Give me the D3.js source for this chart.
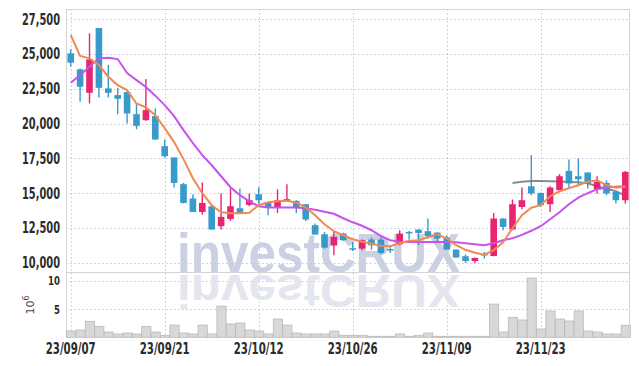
<!DOCTYPE html>
<html><head><meta charset="utf-8">
<script src="https://cdn.jsdelivr.net/npm/d3@7/dist/d3.min.js"></script>
<style>body{margin:0;background:#fff;}svg{display:block;}</style>
</head><body>
<svg id="chart" width="639" height="366"></svg>
<script>
const dates = ["2023-09-07","2023-09-08","2023-09-11","2023-09-12","2023-09-13","2023-09-14","2023-09-15","2023-09-18","2023-09-19","2023-09-20",
"2023-09-21","2023-09-22","2023-09-25","2023-09-26","2023-09-27","2023-10-04","2023-10-05","2023-10-06","2023-10-10","2023-10-11",
"2023-10-12","2023-10-13","2023-10-16","2023-10-17","2023-10-18","2023-10-19","2023-10-20","2023-10-23","2023-10-24","2023-10-25",
"2023-10-26","2023-10-27","2023-10-30","2023-10-31","2023-11-01","2023-11-02","2023-11-03","2023-11-06","2023-11-07","2023-11-08",
"2023-11-09","2023-11-10","2023-11-13","2023-11-14","2023-11-15","2023-11-16","2023-11-17","2023-11-20","2023-11-21","2023-11-22",
"2023-11-23","2023-11-24","2023-11-27","2023-11-28","2023-11-29","2023-11-30","2023-12-01","2023-12-04","2023-12-05","2023-12-06"];
const open = [25050,23900,22215,26870,22530,22050,22270,20680,20250,20540,18380,17570,15650,14620,13655,14065,12630,13150,13920,14160,
14930,14350,13970,14450,14450,14210,12700,12050,11240,12100,11050,11020,11670,11670,10990,11330,12220,12390,12270,12170,
11810,10950,10470,10130,10630,10490,13180,12390,14010,15500,15020,14210,15220,16600,16220,16490,15270,15740,15090,14500];
const high = [25340,23970,26490,26870,24210,22575,22300,21450,23200,21090,18860,17570,15740,14930,15770,14065,14980,15340,15340,14980,
15450,14350,15270,15650,14500,14210,12820,12220,12290,12150,11500,11670,11810,11810,11190,12340,12290,12390,13180,12200,
11980,10950,10610,10380,10780,13580,13180,14550,15410,17730,15050,15500,16370,17420,17500,16490,16220,15935,15100,16600];
const low = [24100,21570,21450,21880,21880,20680,20010,19600,20200,18850,17540,15410,14260,13650,13470,12390,12390,13010,13540,14065,
14210,13420,13580,14450,13580,13010,12030,11020,10540,11600,10850,10900,10950,10610,10700,11260,11670,11260,11740,11570,
10950,10375,9990,9990,10300,10470,12340,12340,13850,14860,14010,13650,15220,15450,15575,15340,14980,14860,14260,14260];
const close = [24380,22650,24620,22575,22215,21785,20730,19840,20970,18860,17660,15740,14300,13655,14300,12390,13300,14065,13540,14500,
14500,13970,14500,14570,13970,13110,12030,11090,11860,11620,11000,11620,11260,10705,10950,12100,12180,12145,11905,11740,
10950,10375,10130,10345,10590,13180,12575,14210,14500,14980,14140,15410,16220,15700,16005,15700,15815,14980,14500,16530];
const ma5 = [26370,24860,24690,24210,23370,22770,22410,21450,21165,20610,19680,18670,17450,16080,15000,14140,13630,13560,13560,13600,
14140,14350,14420,14460,14320,13990,13420,12770,12270,11980,11690,11510,11370,11220,11190,11400,11580,11620,11830,12050,
11760,11260,10935,10720,10580,10900,11475,12480,13420,13960,14140,14780,15140,15360,15575,15830,15935,15575,15395,15470];
const ma10 = [22935,23490,24090,24690,24730,24640,23630,23130,22630,22010,21330,20540,19530,18600,17730,17010,16220,15430,14860,14420,
14065,13970,13970,13970,13970,13920,13810,13670,13525,13200,12910,12660,12340,11910,11620,11510,11500,11500,11500,11500,
11500,11475,11400,11330,11260,11400,11620,11760,12010,12300,12630,13130,13630,14210,14680,15000,15290,15410,15470,15500];
const maLong = [null,null,null,null,null,null,null,null,null,null,null,null,null,null,null,null,null,null,null,null,
null,null,null,null,null,null,null,null,null,null,null,null,null,null,null,null,null,null,null,null,
null,null,null,null,null,null,null,15740,15830,15880,15880,15860,15840,15810,15780,15720,15500,15320,15140,14820];
const volume = [1.11,1.29,2.83,1.94,0.94,0.59,0.76,0.59,1.94,0.94,0.35,2.17,0.76,0.59,2.17,0.59,5.53,2.35,2.53,1.29,
1.11,0.59,3.23,2.17,0.76,0.59,0.59,0.59,1.11,0.35,0.35,0.35,0.18,0.18,0.18,0.59,0.18,0.35,0.76,0.18,
0.18,0.18,0.18,0.18,0.18,5.88,0.94,3.53,3.06,10.48,1.47,4.65,3.23,2.88,4.65,1.11,0.94,0.59,0.59,2.12];
const priceTicks = [10000,12500,15000,17500,20000,22500,25000,27500];
const volumeTicks = [5,10];
const dateTicks = ["2023-09-07","2023-09-21","2023-10-12","2023-10-26","2023-11-09","2023-11-23"];

const svg = d3.select("#chart");
const L = 66, R = 630, T = 9, MID = 272.3, B = 337.3;
const x = d3.scaleBand().domain(dates).range([L, R]).padding(0);
const yP = d3.scaleLinear().domain([9317, 28237]).range([MID, T]);
const yV = d3.scaleLinear().domain([0, 11.5]).range([B, MID]);
const cx = d => x(d) + x.bandwidth() / 2;
const fmtDate = d3.timeFormat("%y/%m/%d");
const parse = d3.timeParse("%Y-%m-%d");
const labelFont = '"DejaVu Sans",sans-serif';

// grid
const grid = svg.append("g").attr("stroke", "#c3c6d6").attr("stroke-width", 1).attr("stroke-dasharray", "1.5,2.5");
grid.selectAll(".hp").data(priceTicks).join("line")
  .attr("x1", L).attr("x2", R).attr("y1", d => Math.round(yP(d)) + 0.5).attr("y2", d => Math.round(yP(d)) + 0.5);
grid.selectAll(".hv").data(volumeTicks).join("line")
  .attr("x1", L).attr("x2", R).attr("y1", d => Math.round(yV(d)) + 0.5).attr("y2", d => Math.round(yV(d)) + 0.5);
grid.selectAll(".vv").data(dateTicks).join("line")
  .attr("x1", d => Math.round(cx(d)) + 0.5).attr("x2", d => Math.round(cx(d)) + 0.5).attr("y1", T).attr("y2", B);

// watermark (logo with mirrored reflection)
const wm = svg.append("g").attr("pointer-events", "none");
wm.append("text").attr("x", 177).attr("y", 272).attr("textLength", 283).attr("lengthAdjust", "spacingAndGlyphs")
  .attr("font-family", '"Liberation Sans","Arial",sans-serif').attr("font-weight", "bold").attr("font-size", 55)
  .attr("fill", "#c6cce1").attr("opacity", 0.9).text("investCRUX");
wm.append("text").attr("x", 177).attr("y", 0).attr("textLength", 283).attr("lengthAdjust", "spacingAndGlyphs")
  .attr("transform", "translate(0,275) scale(1,-0.85)")
  .attr("font-family", '"Liberation Sans","Arial",sans-serif').attr("font-weight", "bold").attr("font-size", 55)
  .attr("fill", "#e2e4ee").attr("opacity", 0.9).text("investCRUX");

// frame
const frame = svg.append("g").attr("stroke", "#d4d4d4").attr("stroke-width", 1);
frame.append("line").attr("x1", L).attr("x2", R).attr("y1", T + 0.5).attr("y2", T + 0.5);
frame.append("line").attr("x1", L).attr("x2", R).attr("y1", 272.5).attr("y2", 272.5);
frame.append("line").attr("x1", L + 0.5).attr("x2", L + 0.5).attr("y1", T).attr("y2", B);
frame.append("line").attr("x1", R - 0.5).attr("x2", R - 0.5).attr("y1", T).attr("y2", B);

// volume bars
svg.append("g").selectAll("rect").data(dates).join("rect")
  .attr("x", d => x(d) + 0.5).attr("width", x.bandwidth() - 0.2)
  .attr("y", (d, i) => yV(volume[i])).attr("height", (d, i) => B - yV(volume[i]))
  .attr("fill", "#d8d8d8").attr("stroke", "#bababa").attr("stroke-width", 0.8);

// moving averages
const line = arr => d3.line().defined(d => d != null).x((d, i) => cx(dates[i])).y(d => yP(d)).curve(d3.curveLinear)(arr);
svg.append("path").attr("d", line(maLong)).attr("fill", "none").attr("stroke", "#6e6e6e").attr("stroke-opacity", 0.8).attr("stroke-width", 2);

// candles
const up = "#e8196a", down = "#2f96c8";
const cg = svg.append("g").attr("opacity", 0.95);
cg.selectAll("line").data(dates).join("line")
  .attr("x1", d => cx(d)).attr("x2", d => cx(d))
  .attr("y1", (d, i) => yP(high[i])).attr("y2", (d, i) => yP(low[i]))
  .attr("stroke", (d, i) => close[i] >= open[i] ? up : down).attr("stroke-width", 1.4);
cg.selectAll("rect").data(dates).join("rect")
  .attr("x", d => cx(d) - 3.3).attr("width", 6.6)
  .attr("y", (d, i) => yP(Math.max(open[i], close[i])))
  .attr("height", (d, i) => Math.max(1.5, Math.abs(yP(open[i]) - yP(close[i]))))
  .attr("fill", (d, i) => close[i] >= open[i] ? up : down);

svg.append("path").attr("d", line(ma10)).attr("fill", "none").attr("stroke", "#c653ee").attr("stroke-width", 2);
svg.append("path").attr("d", line(ma5)).attr("fill", "none").attr("stroke", "#f08a52").attr("stroke-width", 2);

// axes
function condense(sel, k) {
  sel.each(function () {
    const w = this.getComputedTextLength();
    d3.select(this).attr("textLength", w * k).attr("lengthAdjust", "spacingAndGlyphs");
  });
}
const ay = svg.append("g").attr("transform", `translate(${L},0)`)
  .call(d3.axisLeft(yP).tickValues(priceTicks).tickFormat(d3.format(",")).tickSize(0).tickPadding(6));
ay.select(".domain").remove();
ay.selectAll("text").attr("font-family", labelFont).attr("font-weight", "bold").attr("font-size", 15).attr("fill", "#2b2b2b");
const refW = ay.select("text").node().getComputedTextLength();
const kY = 38 / refW;
condense(ay.selectAll("text"), kY);

const av = svg.append("g").attr("transform", `translate(${L},0)`)
  .call(d3.axisLeft(yV).tickValues(volumeTicks).tickFormat(d3.format("d")).tickSize(0).tickPadding(6));
av.select(".domain").remove();
av.selectAll("text").attr("font-family", labelFont).attr("font-weight", "bold").attr("font-size", 13).attr("fill", "#2b2b2b");
condense(av.selectAll("text"), kY);

const ax = svg.append("g").attr("transform", `translate(0,${B})`)
  .call(d3.axisBottom(x).tickValues(dateTicks).tickFormat(d => fmtDate(parse(d))).tickSize(0).tickPadding(6));
ax.select(".domain").remove();
ax.selectAll("text").attr("font-family", labelFont).attr("font-weight", "bold").attr("font-size", 15).attr("fill", "#2b2b2b");
const refX = ax.select("text").node().getComputedTextLength();
condense(ax.selectAll("text"), 50 / refX);

// 10^6 unit label
const unit = svg.append("text").attr("transform", "translate(34,305) rotate(-90)")
  .attr("text-anchor", "middle").attr("font-family", '"DejaVu Sans",sans-serif').attr("font-size", 11).attr("fill", "#444");
unit.append("tspan").text("10");
unit.append("tspan").attr("dy", -5).attr("font-size", 8).text("6");
</script>
</body></html>
